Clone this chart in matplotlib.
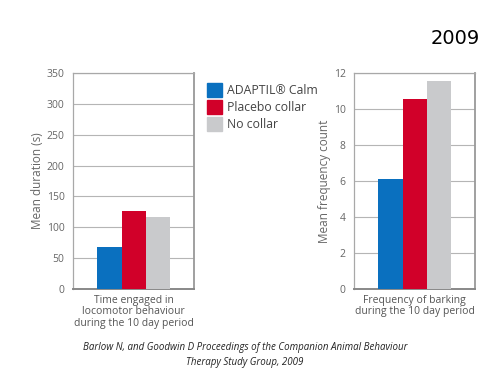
import matplotlib
matplotlib.use('Agg')
import matplotlib.pyplot as plt
import matplotlib.patches as mpatches

groups = ['ADAPTIL\u00ae Calm', 'Placebo collar', 'No collar']
colors = ['#0a70bf', '#d10029', '#c9cacc']

duration = [68, 126, 116]
barking = [6.1, 10.55, 11.55]

dur_ticks = [0, 50, 100, 150, 200, 250, 300, 350]
bark_ticks = [0, 2, 4, 6, 8, 10, 12]

dur_label = 'Time engaged in\nlocomotor behaviour\nduring the 10 day period'
bark_label = 'Frequency of barking\nduring the 10 day period'
caption = ('Barlow N, and Goodwin D Proceedings of the Companion Animal Behaviour\n'
           'Therapy Study Group, 2009')

plt.rcParams['font.family'] = ['Open Sans', 'DejaVu Sans']

fig = plt.figure(figsize=(5, 3.8), dpi=100)
ax1 = fig.add_axes([0.146, 0.2395, 0.242, 0.568])
ax2 = fig.add_axes([0.708, 0.2395, 0.242, 0.568])

txt = '#666666'


def panel(ax, vals, ticks, xlab, ylab):
    ax.bar(range(len(vals)), vals, width=1.0, color=colors, zorder=3)
    ax.set_xlim(-1.5, 3.47)
    ax.set_ylim(ticks[0], ticks[-1])
    ax.set_yticks(ticks)
    ax.set_xticks([])
    ax.grid(axis='y', color='#b5b5b5', linewidth=0.8, zorder=0)
    for s in ax.spines.values():
        s.set_color('#a8a8a8')
        s.set_linewidth(0.9)
    ax.spines['right'].set_color('#999999')
    ax.spines['right'].set_linewidth(1.3)
    ax.spines['bottom'].set_color('#888888')
    ax.spines['bottom'].set_linewidth(1.4)
    ax.tick_params(axis='y', length=0, pad=6, labelsize=7.5, labelcolor=txt)
    ax.set_ylabel(ylab, fontsize=8.5, color=txt, labelpad=2)
    ax.set_xlabel(xlab, fontsize=7.5, color='#555555', labelpad=4, linespacing=1.1)


panel(ax1, duration, dur_ticks, dur_label, 'Mean duration (s)')
panel(ax2, barking, bark_ticks, bark_label, 'Mean frequency count')

handles = [mpatches.Patch(color=c, label=g) for c, g in zip(colors, groups)]
fig.legend(handles=handles, loc='upper left', bbox_to_anchor=(0.404, 0.795),
           frameon=False, fontsize=8.8, handlelength=1.25, handleheight=1.45,
           handletextpad=0.4, labelspacing=0.2, borderaxespad=0, labelcolor='#444444')

fig.text(0.91, 0.9, '2009', fontsize=14, ha='center', va='center', color='black',
         family='DejaVu Sans')
fig.text(0.49, 0.066, caption, fontsize=7, ha='center', va='center',
         style='italic', color='#222222', linespacing=1.4)

fig.savefig('out.png', dpi=100)
